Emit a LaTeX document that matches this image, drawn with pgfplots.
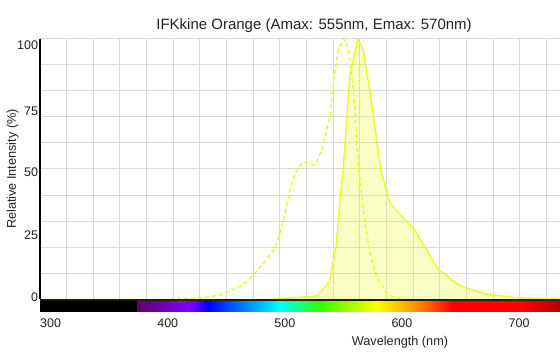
\documentclass[border=0pt]{standalone}
\usepackage{fontspec}
\setmainfont{Liberation Sans}
\usepackage{pgfplots}
\usepackage{pgfplotstable}
\pgfplotsset{compat=1.18}
\definecolor{lineyel}{RGB}{232,255,20}
\definecolor{txt}{RGB}{34,34,34}
\definecolor{sp1}{RGB}{95,0,100}
\definecolor{sp2}{RGB}{130,0,255}
\definecolor{sp3}{RGB}{0,0,255}
\definecolor{sp4}{RGB}{0,255,255}
\definecolor{sp5}{RGB}{50,255,0}
\definecolor{sp6}{RGB}{255,255,0}
\definecolor{sp7}{RGB}{255,140,0}
\definecolor{sp8}{RGB}{255,0,0}
\definecolor{sp9}{RGB}{180,0,0}
\pgfdeclarehorizontalshading{spectrum}{100bp}{color(0bp)=(black); color(34.23bp)=(black); color(34.24bp)=(sp1); color(39.41bp)=(sp2); color(41.16bp)=(sp3); color(48.08bp)=(sp4); color(51.91bp)=(sp5); color(57.37bp)=(sp6); color(61.26bp)=(sp7); color(64.71bp)=(sp8); color(71.16bp)=(sp8); color(75bp)=(sp9); color(100bp)=(sp9)}

\pgfplotstableread{
x y
500 0
503.5 0.1
536.8 1.2
547.1 6.7
552.8 20
555.6 35.5
559 50.5
564.7 86.8
571.3 100
576.1 95.8
583.3 75.3
591 49.6
598.9 36.8
610.3 31
620.2 26.5
630.2 18.8
640.1 11.4
658.7 5
681.5 1.9
707.1 0.5
744 0
}\emis

\pgfplotstableread{
x y
411 0
436.6 0.3
453.7 1.5
465.1 3.7
473.6 5.4
482.2 9.2
490.7 13.7
500.7 19.5
505 25.3
509.2 33
513.5 41.9
517.8 48.3
523.5 52.2
527.8 52.7
534.8 51.5
540.6 57.3
547.7 70.1
550.5 83
554.7 95.8
559 99.9
561.9 99
565.6 89.3
569 72.7
571.8 51
573.3 45.8
577.5 29.1
581.8 17.6
587.5 8.6
596.1 2.2
604.6 0.3
610 0
}\excit

\begin{document}
\begin{tikzpicture}
\useasboundingbox (-40bp,-55bp) rectangle (520bp,299bp);
\begin{axis}[
  at={(0,0)}, anchor=south west,
  scale only axis, width=520bp, height=260bp,
  xmin=300, xmax=744.07, ymin=0, ymax=100,
  axis line style={draw=none},
  xtick={300,400,500,600,700}, xticklabels={300,400,500,600,700},
  ytick={0.58,24.73,48.96,72.38,97.69}, yticklabels={0,25,50,75,100},
  minor xtick={322.77,345.54,368.31,391.08,413.85,436.62,459.39,482.16,504.93,527.7,550.47,573.24,596.01,618.78,641.55,664.32,687.09,709.86,732.63},
  minor ytick={10,20,30,40,50,60,70,80,90,100},
  xminorgrids=true, yminorgrids=true,
  minor grid style={color=gray!30, line width=1bp},
  major tick length=0pt, minor tick length=0pt,
  tick label style={font=\fontsize{12.5bp}{14bp}\selectfont, text=txt, inner sep=0pt},
  xticklabel style={anchor=north west, yshift=-19.3bp},
  yticklabel style={anchor=east, xshift=-1.7bp},
  clip=false,
]
\addplot[draw=none, fill=lineyel, fill opacity=0.25] table[x=x,y=y] {\emis} \closedcycle;
\addplot[lineyel, line width=1.3bp, dash pattern=on 4bp off 3bp] table[x=x,y=y] {\excit};
\addplot[lineyel, line width=1.3bp] table[x=x,y=y] {\emis};
\draw[black, line width=2bp] (rel axis cs:0,0) -- (rel axis cs:0,1);
\draw[color={rgb,255:red,30;green,30;blue,0}, line width=2bp] ([yshift=-1bp]rel axis cs:0,0) -- ([yshift=-1bp]rel axis cs:1,0);
\shade[shading=spectrum] ([yshift=-2bp]rel axis cs:0,0) rectangle ([yshift=-12bp]rel axis cs:1,0);
\node[font=\fontsize{15bp}{18bp}\selectfont, text=txt, anchor=base, inner sep=0pt, yshift=9.7bp] at (rel axis cs:0.527,1) {IFKkine Orange (Amax: 555nm, Emax: 570nm)};
\node[font=\fontsize{12.7bp}{15bp}\selectfont, text=txt, anchor=base, inner sep=0pt, yshift=-46.5bp] at (rel axis cs:0.6923,0) {Wavelength (nm)};
\node[font=\fontsize{12.7bp}{15bp}\selectfont, text=txt, anchor=base, inner sep=0pt, rotate=90] at ([xshift=-24.2bp]rel axis cs:0,0.5) {Relative Intensity (\%)};
\end{axis}
\end{tikzpicture}
\end{document}
